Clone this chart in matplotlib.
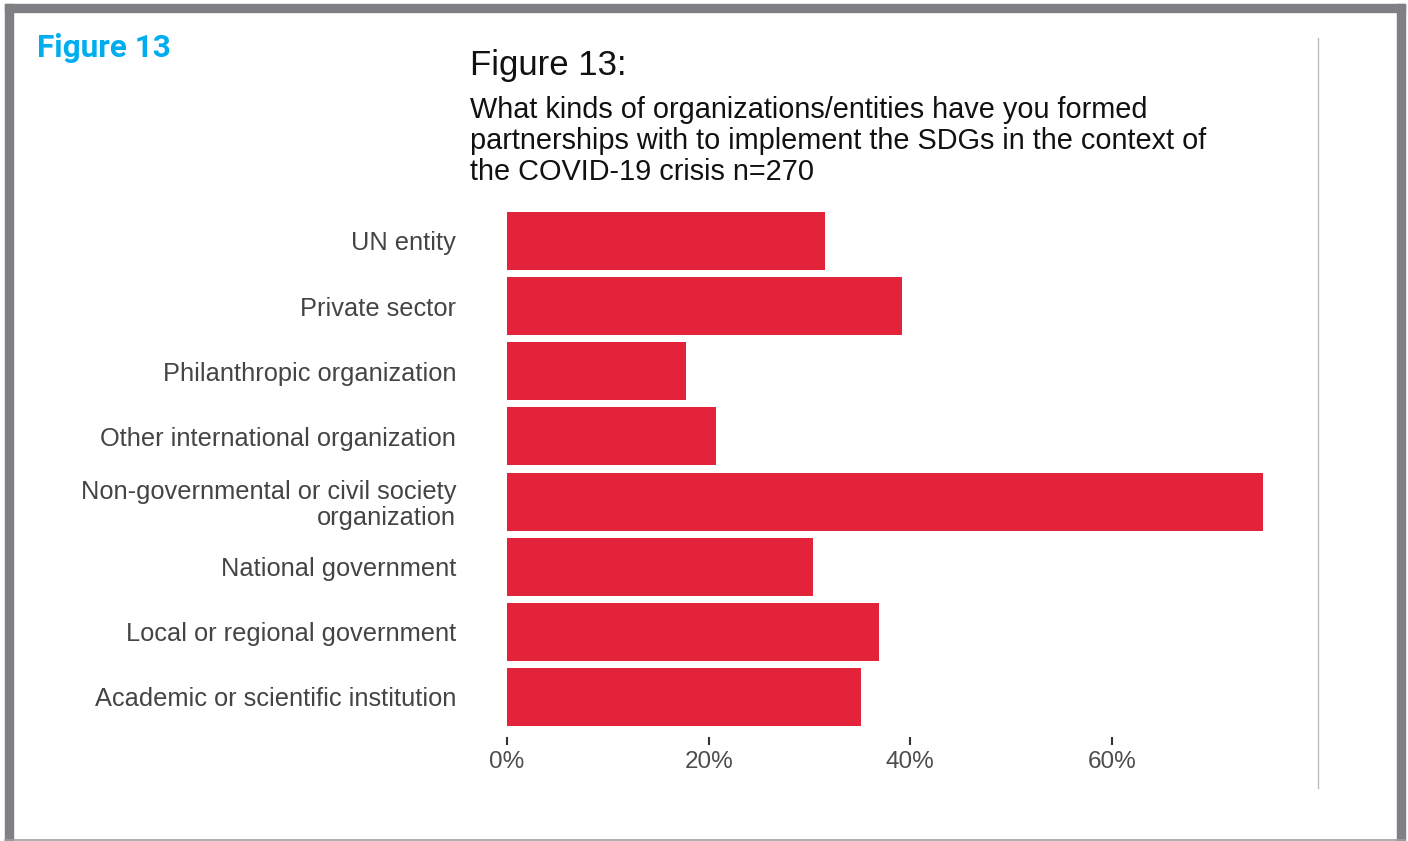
import matplotlib.pyplot as plt
from matplotlib.patches import Rectangle
from matplotlib.lines import Line2D
from matplotlib.ticker import FuncFormatter

# --- Data ---
categories = [
    "UN entity",
    "Private sector",
    "Philanthropic organization",
    "Other international organization",
    "Non-governmental or civil society\norganization",
    "National government",
    "Local or regional government",
    "Academic or scientific institution",
]
shares = [31.5, 39.2, 17.8, 20.7, 75.0, 30.3, 36.9, 35.1]
xticks = [0, 20, 40, 60]

title = "Figure 13:"
subtitle = [
    "What kinds of organizations/entities have you formed",
    "partnerships with to implement the SDGs in the context of",
    "the COVID-19 crisis n=270",
]

W, H = 1408, 841
BAR = "#e3233a"
FRAME = "#808084"

plt.rcParams['font.family'] = ['Liberation Sans', 'DejaVu Sans']

fig = plt.figure(figsize=(W / 100, H / 100), dpi=100)


def fx(x):
    return x / W


def fy(y):
    return 1 - y / H


# --- grey page frame ---
fig.patches.append(Rectangle((fx(5), fy(12)), fx(1400), 8 / H, color=FRAME,
                             transform=fig.transFigure, zorder=0))
fig.patches.append(Rectangle((fx(5), fy(841)), 8 / W, (841 - 4) / H, color=FRAME,
                             transform=fig.transFigure, zorder=0))
fig.patches.append(Rectangle((fx(1397), fy(841)), 8 / W, (841 - 4) / H, color=FRAME,
                             transform=fig.transFigure, zorder=0))
fig.lines.append(Line2D([fx(5), fx(1405)], [fy(840), fy(840)], color="#a0a0a0",
                        lw=1.2, transform=fig.transFigure))
fig.lines.append(Line2D([fx(1318), fx(1318)], [fy(38), fy(788)], color="#bdbdbd",
                        lw=1.0, transform=fig.transFigure))

# --- header texts ---
fig.text(fx(37), fy(48), "Figure 13", family="Roboto", fontweight="bold",
         fontsize=22.7, color="#00aeef", va="center", ha="left")
fig.text(fx(470), fy(65), title, fontsize=25, color="#111111", va="center", ha="left")
for i, line in enumerate(subtitle):
    fig.text(fx(470), fy(110 + 31 * i), line, fontsize=20.8, color="#111111",
             va="center", ha="left")

# --- bar panel ---
x0, x1 = 507, 507 + 76 * 10.083
y_top, y_bot = 208.4, 737
ax = fig.add_axes([fx(x0), fy(y_bot), (x1 - x0) / W, (y_bot - y_top) / H])

pos = list(range(len(categories)))
ax.barh(pos, shares, height=0.89, color=BAR)
ax.set_ylim(7.614, -0.5)
ax.set_xlim(0, 76)

ax.set_yticks(pos)
ax.set_yticklabels(categories, fontsize=18.3, color="#444444", linespacing=1.12)
ax.tick_params(axis="y", length=0, pad=36.7)

ax.set_xticks(xticks)
ax.xaxis.set_major_formatter(FuncFormatter(lambda v, p: f"{v:.0f}%"))
ax.tick_params(axis="x", length=6, width=1.5, color="#333333", pad=4,
               labelsize=17.5, labelcolor="#4d4d4d")

for s in ax.spines.values():
    s.set_visible(False)

plt.savefig("out.png", dpi=100)
